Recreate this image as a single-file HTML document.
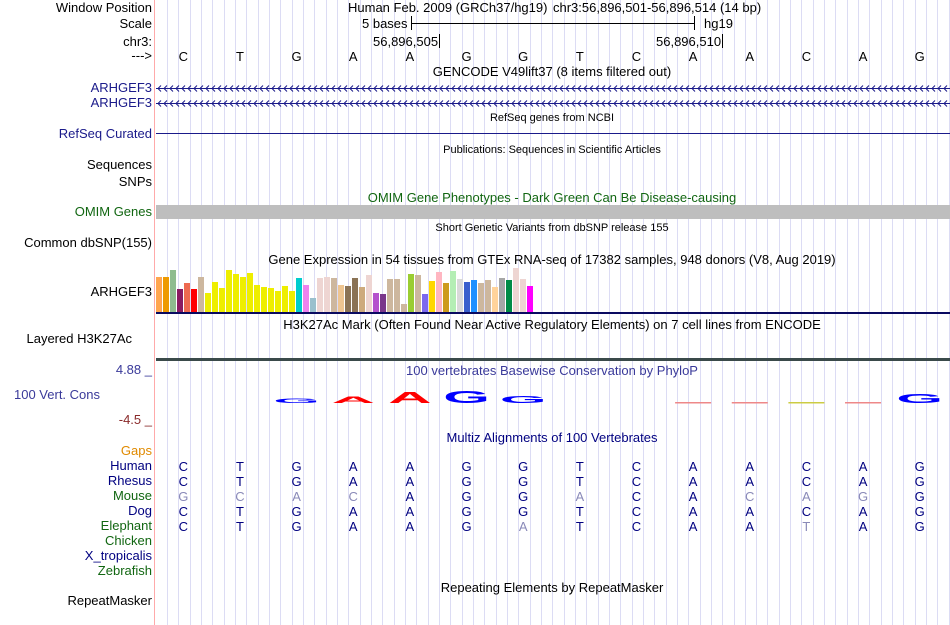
<!DOCTYPE html>
<html><head><meta charset="utf-8"><style>
body{margin:0;width:950px;height:625px;background:#fff;position:relative;overflow:hidden;font-family:"Liberation Sans",sans-serif;font-size:13px;color:#000}
.l{position:absolute;right:798px;white-space:nowrap;text-align:right;line-height:15px}
.t{position:absolute;white-space:nowrap;line-height:15px}
.c{position:absolute;white-space:nowrap;line-height:15px;transform:translateX(-50%)}
.s{font-size:11px}
</style></head><body>
<svg id="grid" width="950" height="625" style="position:absolute;left:0;top:0"></svg>
<div>
<div class="l" style="top:0px">Window Position</div>
<div class="l" style="top:16px">Scale</div>
<div class="l" style="top:34px">chr3:</div>
<div class="l" style="top:48px">---&gt;</div>
<div class="l" style="top:80px;color:#1a1a8a">ARHGEF3</div>
<div class="l" style="top:95px;color:#1a1a8a">ARHGEF3</div>
<div class="l" style="top:126px;color:#1a1a8a">RefSeq Curated</div>
<div class="l" style="top:157px">Sequences</div>
<div class="l" style="top:174px">SNPs</div>
<div class="l" style="top:204px;color:#116611">OMIM Genes</div>
<div class="l" style="top:235px">Common dbSNP(155)</div>
<div class="l" style="top:284px">ARHGEF3</div>
<div class="l" style="top:331px;right:818px">Layered H3K27Ac</div>
<div class="l" style="top:362px;color:#3a3a9a">4.88 _</div>
<div class="l" style="top:387px;right:850px;color:#3a3a9a">100 Vert. Cons</div>
<div class="l" style="top:412px;color:#8a2a2a">-4.5 _</div>
<div class="l" style="top:443px;color:#e08a00">Gaps</div>
<div class="l" style="top:458px;color:#000080">Human</div>
<div class="l" style="top:473px;color:#000080">Rhesus</div>
<div class="l" style="top:488px;color:#116611">Mouse</div>
<div class="l" style="top:503px;color:#000080">Dog</div>
<div class="l" style="top:518px;color:#116611">Elephant</div>
<div class="l" style="top:533px;color:#116611">Chicken</div>
<div class="l" style="top:548px;color:#000080">X_tropicalis</div>
<div class="l" style="top:563px;color:#116611">Zebrafish</div>
<div class="l" style="top:593px">RepeatMasker</div>
</div>
<div class="t" style="left:348px;top:0px">Human Feb. 2009 (GRCh37/hg19)</div>
<div class="t" style="left:553px;top:0px">chr3:56,896,501-56,896,514 (14 bp)</div>
<div class="t" style="left:362px;top:16px">5 bases</div>
<div style="position:absolute;left:411px;top:16px;width:1px;height:14px;background:#000"></div>
<div style="position:absolute;left:411px;top:23px;width:284px;height:1px;background:#000"></div>
<div style="position:absolute;left:694px;top:16px;width:1px;height:14px;background:#000"></div>
<div class="t" style="left:704px;top:16px">hg19</div>
<div class="t" style="left:373px;top:34px">56,896,505</div>
<div style="position:absolute;left:439px;top:34px;width:1px;height:14px;background:#000"></div>
<div class="t" style="left:656px;top:34px">56,896,510</div>
<div style="position:absolute;left:722px;top:34px;width:1px;height:14px;background:#000"></div>
<div class="c" style="left:552px;top:64px">GENCODE V49lift37 (8 items filtered out)</div>
<div class="c s" style="left:552px;top:111px">RefSeq genes from NCBI</div>
<div style="position:absolute;left:156px;top:133px;width:794px;height:1px;background:#1a1a8a"></div>
<div class="c s" style="left:552px;top:143px">Publications: Sequences in Scientific Articles</div>
<div class="c" style="left:552px;top:190px;color:#116611">OMIM Gene Phenotypes - Dark Green Can Be Disease-causing</div>
<div style="position:absolute;left:156px;top:205px;width:794px;height:14px;background:#bebebe"></div>
<div class="c s" style="left:552px;top:221px">Short Genetic Variants from dbSNP release 155</div>
<div class="c" style="left:552px;top:252px">Gene Expression in 54 tissues from GTEx RNA-seq of 17382 samples, 948 donors (V8, Aug 2019)</div>
<div style="position:absolute;left:156px;top:312px;width:794px;height:2px;background:#0a0a60"></div>
<div class="c" style="left:552px;top:317px">H3K27Ac Mark (Often Found Near Active Regulatory Elements) on 7 cell lines from ENCODE</div>
<div style="position:absolute;left:156px;top:358px;width:794px;height:3px;background:#3a4a4a"></div>
<div class="c" style="left:552px;top:363px;color:#3a3a9a">100 vertebrates Basewise Conservation by PhyloP</div>
<div class="c" style="left:552px;top:430px;color:#000080">Multiz Alignments of 100 Vertebrates</div>
<div class="c" style="left:552px;top:580px">Repeating Elements by RepeatMasker</div>
<svg id="fg" width="950" height="625" style="position:absolute;left:0;top:0;font-family:'Liberation Sans',sans-serif"></svg>
<script>
const bases=["C","T","G","A","A","G","G","T","C","A","A","C","A","G"];
const mouse=["G","C","A","C","A","G","G","A","C","A","C","A","G","G"];
const mouseDiff=[1,1,1,1,0,0,0,1,0,0,1,1,1,0];
const rhesus=["C","T","G","A","A","G","G","T","C","A","A","C","A","G"];
const dog=["C","T","G","A","A","G","G","T","C","A","A","C","A","G"];
const elephant=["C","T","G","A","A","G","A","T","C","A","A","T","A","G"];
const elephantDiff=[0,0,0,0,0,0,1,0,0,0,0,1,0,0];
const phylop=[0,0,0.9,1.3,2.2,2.4,1.4,0,0,-0.3,-0.3,-0.3,-0.3,1.8];
const gtexVals=[35,35,42,23,29,23,35,19,30,24,42,38,35,39,27,25,24,21,26,21,34,27,14,34,35,34,27,26,34,25,37,19,18,33,33,8,38,37,18,31,40,29,41,33,30,32,29,32,25,34,32,44,33,26];
const gtexColors=["#ffa54f","#ee9a00","#8fbc8f","#8b1c62","#ee6a50","#ff0000","#cdb79e","#eeee00","#eeee00","#eeee00","#eeee00","#eeee00","#eeee00","#eeee00","#eeee00","#eeee00","#eeee00","#eeee00","#eeee00","#eeee00","#00cdcd","#ee82ee","#9ac0cd","#eed5d2","#eed5d2","#cdb79e","#eec591","#8b7355","#8b7355","#cdaa7d","#eed5d2","#b452cd","#7a378b","#cdb79e","#cdb79e","#cdb79e","#9acd32","#cdb79e","#7b68ee","#ffd700","#ffb6c1","#cd9b1d","#b4eeb4","#d9d9d9","#3a5fcd","#1e90ff","#cdb79e","#cdb79e","#ffd39b","#a6a6a6","#008b45","#eed5d2","#eed5d2","#ff00ff"];
const NS="http://www.w3.org/2000/svg";
const x0=156,x1=949,bw=(x1-x0)/bases.length;
const xb=i=>x0+bw*(i+0.5)-1;
const grid=document.getElementById('grid'),fg=document.getElementById('fg');
function mk(p,tag,a){const e=document.createElementNS(NS,tag);for(const k in a)e.setAttribute(k,a[k]);p.appendChild(e);return e;}
mk(grid,'line',{x1:154.5,y1:0,x2:154.5,y2:625,stroke:'#ffaaaa'});
for(let gx=x0+11;gx<950;gx+=11.33){const l=mk(grid,'line',{x1:Math.round(gx)+0.5,y1:0,x2:Math.round(gx)+0.5,y2:625,stroke:'#dcdcf4'});

}
function row(arr,y,col,diff,nm){arr.forEach((b,i)=>{const t=mk(fg,'text',{x:xb(i),y:y,'text-anchor':'middle','font-size':13,fill:diff&&diff[i]?'#8a8ab8':col});t.textContent=b;

});}
row(bases,61,'#000',null,'ref');
row(bases,471,'#000080',null,'human');
row(rhesus,486,'#000080',null,'rhesus');
row(mouse,501,'#000080',mouseDiff,'mouse');
row(dog,516,'#000080',null,'dog');
row(elephant,531,'#000080',elephantDiff,'elephant');
[88,103].forEach(y=>{mk(fg,'line',{x1:156,y1:y+.5,x2:950,y2:y+.5,stroke:'#1a1a8a'});
for(let ax=158;ax<950;ax+=6){mk(fg,'polyline',{points:`${ax+3},${y-2.5} ${ax},${y+.5} ${ax+3},${y+3.5}`,fill:'none',stroke:'#1a1a8a'});}});
const gMax=44,gBase=312,gH=44,gW=7;
gtexVals.forEach((v,i)=>{const h=v/gMax*gH;const r=mk(fg,'rect',{x:156+i*gW,y:gBase-h,width:gW-1,height:h,fill:gtexColors[i]});

});
const pBase=403;
phylop.forEach((v,i)=>{if(v===0)return;
if(v>0){const h=v*5;const col=(bases[i]=='A')?'#ff0000':'#0000ff';
const t=mk(fg,'text',{x:0,y:0,'text-anchor':'middle','font-size':20,'font-weight':'bold',fill:col,transform:`translate(${xb(i)},${pBase}) scale(3,${h/14})`});t.textContent=bases[i];

}
else{const col=bases[i]=='C'?'#cccc44':'#ee8888';const r=mk(fg,'rect',{x:xb(i)-18,y:pBase-1,width:36,height:1.5,fill:col});

}});
</script>
</body></html>
